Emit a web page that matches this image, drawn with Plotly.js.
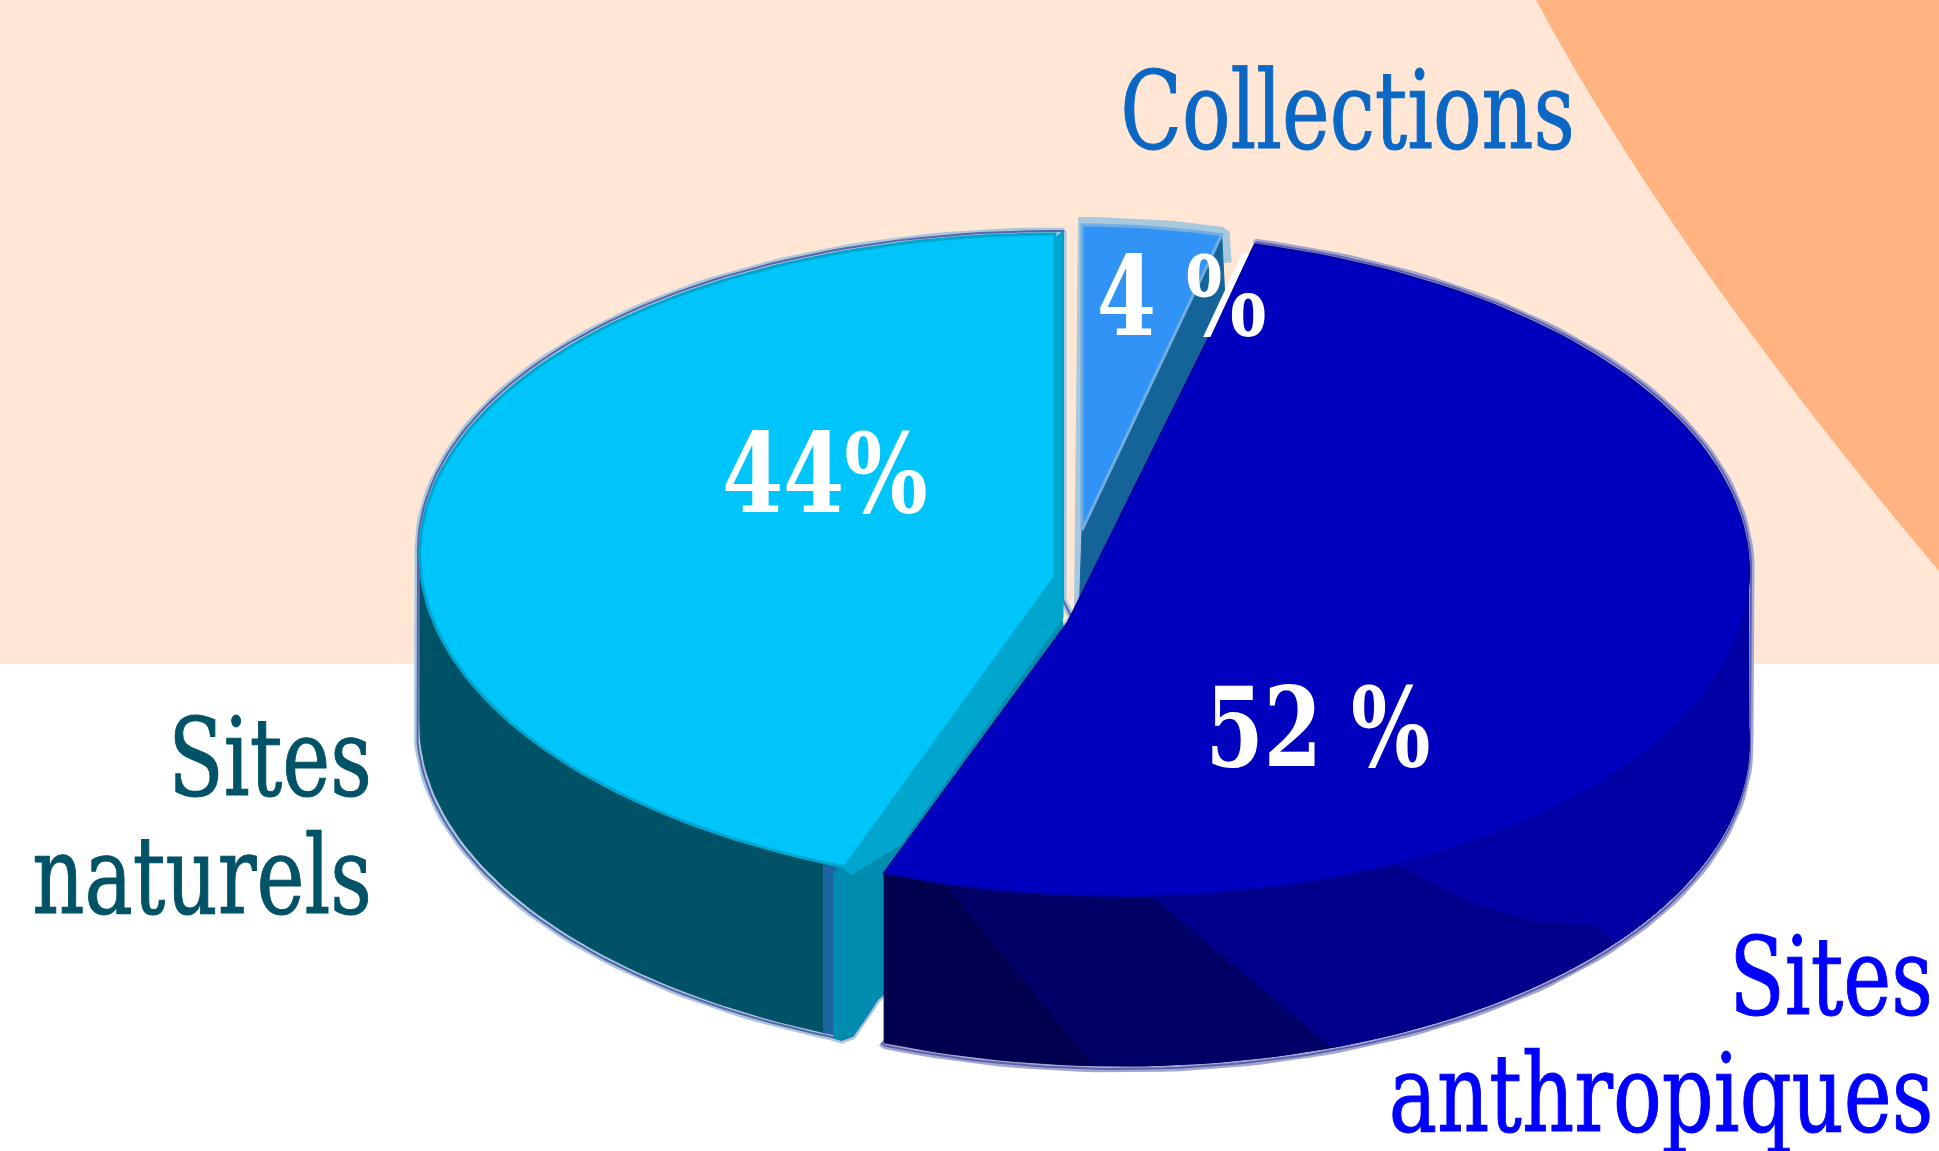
<!DOCTYPE html>
<html><head><meta charset="utf-8">
<script src="https://cdn.plot.ly/plotly-3.0.1.min.js"></script>
<style>html,body{margin:0;padding:0;background:#fff}#c{width:1939px;height:1151px}</style>
</head><body><div id="c"></div>
<script>
// ---- data ----
const categoryLines = [['Sites', 'naturels'], ['Collections'], ['Sites', 'anthropiques']];
const shares = [44, 4, 52];
const shareLabels = ['44%', '4 %', '52 %'];

// ---- styles ----
const faceColors = ['#00C5FA', '#3293F6', '#0000BF'];
const labelColors = ['#005266', '#0B67C4', '#0000FF'];
const W = 1939, H = 1151, DEPTH = 170;
const rad = d => d * Math.PI / 180;

// pie geometry: one projected ellipse per (exploded) slice
const ellNat = {cx:1070, cy:562, rx:650, ry:328, s:15};
const ellCol = {cx:1095, cy:535, rx:560, ry:310, s:13};
const ellAnt = {cx:1108, cy:565, rx:641, ry:331, s:13};
const pt = (e, t, d=0) => [e.cx + e.rx*Math.cos(rad(t)) - e.s*Math.sin(rad(t)), e.cy - e.ry*Math.sin(rad(t)) + d];
function arc(e, a, b, d=0){ const n=Math.max(2,Math.ceil(Math.abs(b-a)/1.5)), o=[]; for(let i=0;i<=n;i++) o.push(pt(e,a+(b-a)*i/n,d)); return o; }

// slice angles follow from the shares
const start = 90;
const natEnd = start + shares[0]*3.6;
const colEnd = start - shares[1]*3.6;
const antEnd = colEnd - shares[2]*3.6;

const apexNat=[1055,577], apexCol=[1082,530], apexAnt=[1068,622];

const traces=[];
function poly(pts, fill, line, width){
  const closed = pts.concat([pts[0]]);
  traces.push({type:'scatter',mode:'lines',x:closed.map(p=>p[0]),y:closed.map(p=>p[1]),
    fill: fill?'toself':'none', fillcolor: fill||undefined,
    line:{color:line||fill||'rgba(0,0,0,0)',width:width===undefined?(line?2:1):width,shape:'linear'},
    hoverinfo:'skip',showlegend:false});
}
function stroke(pts,color,width){
  traces.push({type:'scatter',mode:'lines',x:pts.map(p=>p[0]),y:pts.map(p=>p[1]),line:{color,width},hoverinfo:'skip',showlegend:false});
}
const HALO='#A8C8DE', HALO2='#A4A6D2', EDGE='#5C62AC';

// --- Sites naturels ---
const natEndPt = pt(ellNat,natEnd), natEndLow = pt(ellNat,natEnd,DEPTH);
const notch = [[natEndLow[0]-3,natEndLow[1]+3],[natEndLow[0]+8,natEndLow[1]-1],[natEndLow[0]+20,natEndLow[1]-18],[natEndLow[0]+33,natEndLow[1]-38],[natEndLow[0]+40,natEndLow[1]-44]];
const natOuter = [[1063,231]].concat(arc(ellNat,start-1,180,-3).map(p=>[p[0]-2,p[1]]))
   .concat(arc(ellNat,180,natEnd-1,DEPTH).map(p=>[p[0]-3,p[1]+2]))
   .concat(notch).concat([[885,870],[1072,618],[1063,600]]);
poly(natOuter,null,HALO,7);
poly(natOuter,null,EDGE,2);
// outer wall
poly(arc(ellNat,178,natEnd-1.8).concat(arc(ellNat,natEnd-1.8,178,DEPTH)),'#005266');
poly(arc(ellNat,natEnd-2,natEnd-0.5).concat(arc(ellNat,natEnd-0.5,natEnd-2,DEPTH)),'#1A64A0');
// cut face
poly([[natEndLow[0]-11,natEndLow[1]+1],[natEndPt[0]-11,natEndPt[1]+6],apexNat,[1063,625],[1063,740],[885,994]].concat(notch.slice().reverse()),'#008CAF');
// lit cut face strip
poly([[1063,231],[1063,618],[900,845],[852,874],[natEndPt[0],natEndPt[1]+3],apexNat,[1055,238]],'#00A6CE');
// top face
poly([apexNat].concat(arc(ellNat,start,natEnd)),faceColors[0],'#00A6CE',3);

// --- Collections ---
const colA=pt(ellCol,start), colB=pt(ellCol,colEnd);
const colOuter=[[colA[0]-4,apexAnt[1]-10]].concat(arc(ellCol,start,colEnd).map(p=>[p[0],p[1]-4]))
  .concat([[colB[0]+4,colB[1]-1],[colB[0]+6,colB[1]+28]]);
stroke(colOuter,HALO,8);
poly([colB,apexCol,[apexCol[0]-3,apexCol[1]+90],[1225,300]],'#156499');
poly([apexCol].concat(arc(ellCol,start,colEnd)),faceColors[1],'#6FAEE2',3);

// --- Sites anthropiques ---
const antA=pt(ellAnt,colEnd), antB=pt(ellAnt,antEnd);
const antOuter=[antA].concat(arc(ellAnt,colEnd,0).map(p=>[p[0]+2,p[1]-2]))
   .concat(arc(ellAnt,0,antEnd,DEPTH).map(p=>[p[0]+1,p[1]+3]))
   .concat([[antB[0]-3,antB[1]+DEPTH]]);
stroke(antOuter,HALO2,7);
stroke(antOuter,EDGE,2);
// wall shading bands, darkest first, each painted to the right end of the wall
const bands=[
  {top:antEnd, bot:antEnd, mid:[],       color:'#00004E'},
  {top:-106,   bot:-92.5,  mid:[],       color:'#000066'},
  {top:-87.3,  bot:-70.7,  mid:[],       color:'#00008A'},
  {top:-64.5,  bot:-38.7,  mid:[[1472,903],[1533,921],[1595,925]], color:'#0000A5'}];
bands.forEach(b=>{
  const p=arc(ellAnt,2,b.top).concat(b.mid).concat(arc(ellAnt,b.bot,2,DEPTH));
  poly(p,b.color);
});
// top face
poly([apexAnt].concat(arc(ellAnt,colEnd,antEnd)),faceColors[2],'#0000A8',2);

// --- labels ---
const F='"DejaVu Serif Condensed","DejaVu Serif",serif';
const ann=(x,y,text,size,color,anchor,bold)=>({x,y,xref:'x',yref:'y',text:bold?'<b>'+text+'</b>':text,showarrow:false,
  xanchor:anchor,yanchor:'middle',align:anchor,font:{family:F,size,color}});
const annotations=[
  ann(374,757,categoryLines[0][0],108,labelColors[0],'right'),
  ann(374,875,categoryLines[0][1],108,labelColors[0],'right'),
  ann(1577,110,categoryLines[1][0],108,labelColors[1],'right'),
  ann(1935,976,categoryLines[2][0],108,labelColors[2],'right'),
  ann(1935,1093,categoryLines[2][1],108,labelColors[2],'right'),
  ann(825,473,shareLabels[0],110,'#fff','center',true),
  ann(1181,296,shareLabels[1],110,'#fff','center',true),
  ann(1318,727,shareLabels[2],110,'#fff','center',true)
];
const squeeze=[0.835,0.835,0.83,0.835,0.835,0.888,0.86,0.845];

const shapes=[
  {type:'rect',xref:'x',yref:'y',x0:0,x1:W,y0:0,y1:664,fillcolor:'#FFE6D5',line:{width:0},layer:'below'},
  {type:'path',xref:'x',yref:'y',path:'M 1536 0 Q 1675 258 1939 571 L 1939 0 Z',fillcolor:'#FFB380',line:{width:0},layer:'below'}
];

Plotly.newPlot('c',traces,{
  width:W,height:H,margin:{l:0,r:0,t:0,b:0},paper_bgcolor:'#fff',plot_bgcolor:'rgba(0,0,0,0)',
  xaxis:{range:[0,W],visible:false,fixedrange:true},
  yaxis:{range:[H,0],visible:false,fixedrange:true},
  showlegend:false,shapes,annotations
},{displayModeBar:false,staticPlot:true}).then(gd=>{
  // the reference lettering is narrower than the installed font: squeeze it horizontally
  gd.querySelectorAll('.annotation-text').forEach((el,i)=>{
    const a=annotations[i], right=a.xanchor==='right';
    el.style.transformBox='fill-box';
    el.style.transformOrigin=right?'100% 50%':'50% 50%';
    el.style.transform='scaleX('+squeeze[i]+')';
    if(right){el.style.stroke=a.font.color;el.style.strokeWidth='1px';}
  });
});
</script></body></html>
